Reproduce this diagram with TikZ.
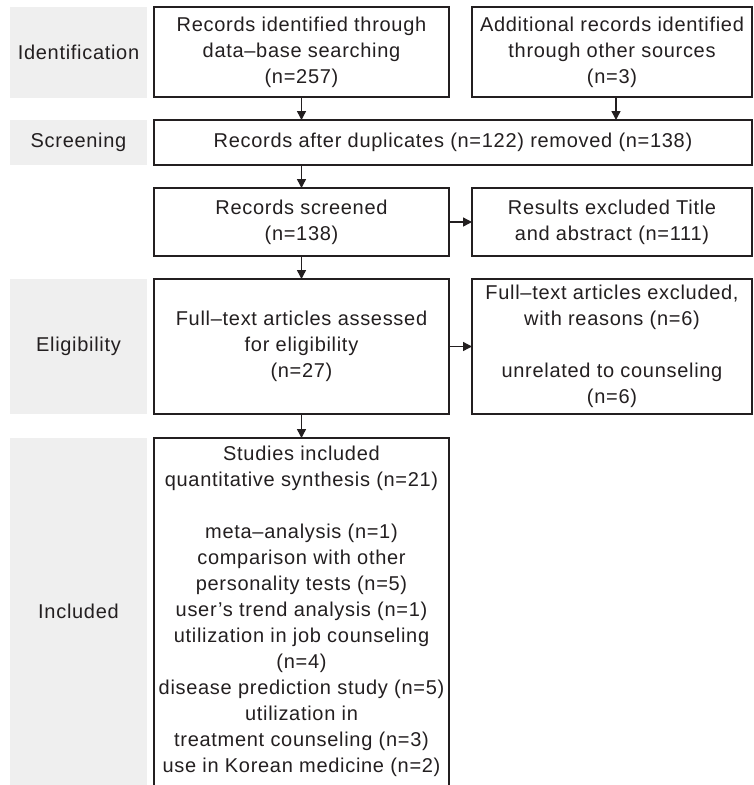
\documentclass[tikz,border=0pt]{standalone}
\usepackage{fontspec}
\setmainfont{Liberation Sans}[LetterSpace=3.5]
\usetikzlibrary{arrows.meta}
\definecolor{ln}{HTML}{231F20}
\definecolor{gr}{HTML}{EFEFEF}
\tikzset{
  box/.style={draw=ln, line width=1.4pt, rectangle, inner sep=0pt, outer sep=0pt,
    align=center, text=ln, anchor=north west, font=\fontsize{20}{26}\selectfont},
  lab/.style={fill=gr, rectangle, inner sep=0pt, outer sep=0pt, minimum width=137pt,
    anchor=north west, text=ln, font=\fontsize{20}{26}\selectfont},
  arr/.style={draw=ln, line width=1.4pt, -{Triangle[length=9pt,width=9pt]}}
}
\begin{document}
\begin{tikzpicture}[x=1pt,y=-1pt]
\clip (0,0) rectangle (753,785);
\fill[white] (0,0) rectangle (753,785);
% stage labels
\node[lab, minimum height=91pt] (lid) at (10,7) {Identification};
\node[lab, minimum height=45pt] (lsc) at (10,120) {Screening};
\node[lab, minimum height=135pt] (lel) at (10,279) {Eligibility};
\node[lab, minimum height=347pt] (lin) at (10,438) {Included};
% boxes
\node[box, minimum width=295pt, minimum height=90pt] (A) at (154,7)
  {Records identified through\\data–base searching\\(n=257)};
\node[box, minimum width=280pt, minimum height=90pt] (B) at (472,7)
  {Additional records identified\\through other sources\\(n=3)};
\node[box, minimum width=598pt, minimum height=45pt] (C) at (154,120)
  {Records after duplicates (n=122) removed (n=138)};
\node[box, minimum width=295pt, minimum height=68pt] (D) at (154,188)
  {Records screened\\(n=138)};
\node[box, minimum width=280pt, minimum height=68pt] (E) at (472,188)
  {Results excluded Title\\and abstract (n=111)};
\node[box, minimum width=295pt, minimum height=135pt] (F) at (154,279)
  {Full–text articles assessed\\for eligibility\\(n=27)};
\node[box, minimum width=280pt, minimum height=135pt] (G) at (472,279)
  {Full–text articles excluded,\\with reasons (n=6)\\[26pt]unrelated to counseling\\(n=6)};
\node[box, draw=none, minimum width=295pt, minimum height=347pt] (H) at (154,438)
  {Studies included\\quantitative synthesis (n=21)\\[26pt]meta–analysis (n=1)\\comparison with other\\personality tests (n=5)\\user’s trend analysis (n=1)\\utilization in job counseling\\(n=4)\\disease prediction study (n=5)\\utilization in\\treatment counseling (n=3)\\use in Korean medicine (n=2)};
\draw[ln, line width=1.4pt] ([yshift=-20pt]H.south west) -- (H.north west) -- (H.north east) -- ([yshift=-20pt]H.south east);
% connectors
\draw[arr] (A) -- (A |- C.north);
\draw[arr] ([xshift=4pt]B.south) -- ([xshift=4pt]B.south |- C.north);
\draw[arr] (A |- C.south) -- (D);
\draw[arr] (D) -- (E);
\draw[arr] (D) -- (F);
\draw[arr] (F) -- (G);
\draw[arr] (F) -- (H.north);
\end{tikzpicture}
\end{document}
